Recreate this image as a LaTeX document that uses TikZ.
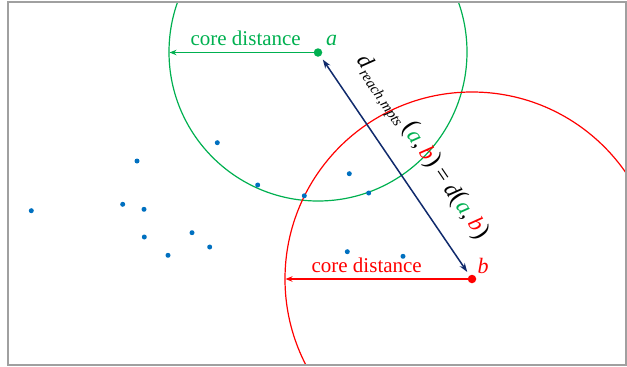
\documentclass[tikz,border=0pt]{standalone}
\usepackage{fontspec}
\setmainfont{Liberation Serif}
\usetikzlibrary{arrows.meta}
\definecolor{cgreen}{HTML}{00B050}
\definecolor{cred}{HTML}{FF0000}
\definecolor{cblue}{HTML}{0070C0}
\definecolor{cnavy}{HTML}{102A6C}
\definecolor{cframe}{HTML}{A0A0A0}
\tikzset{
  dot/.style={circle, fill=cblue, inner sep=0pt, minimum size=5pt},
  keypt/.style={circle, inner sep=0pt, minimum size=8.5pt},
  ring/.style={line width=1.2pt},
  corearrow/.style={line width=1.6pt, -{Stealth[length=7pt,width=5.5pt]}},
  lbl/.style={font=\fontsize{21}{25}\selectfont, inner sep=0pt},
  ptlbl/.style={font=\fontsize{22}{26}\selectfont\itshape, inner sep=0pt},
  reach/.style={line width=1.5pt, cnavy, {Stealth[length=9pt,width=6pt]}-{Stealth[length=9pt,width=6pt]}, shorten <=4pt, shorten >=4pt},
}
\begin{document}
\begin{tikzpicture}[x=1pt,y=-1pt]
\useasboundingbox (0,0) rectangle (627,367);
\coordinate (tl) at (8,2);
\coordinate (br) at (626,365);
\begin{scope}
  \clip (tl) rectangle (br);
  \draw[ring, cgreen] (318,52) circle[radius=149pt];
  \draw[ring, cred] (472,279) circle[radius=187pt];
\end{scope}
\draw[cframe, line width=1.5pt] (tl) rectangle (br);

% data points
\node[dot] (p1) at (217.3,142.7) {};
\node[dot] (p2) at (137,161) {};
\node[dot] (p3) at (257.7,185) {};
\node[dot] (p4) at (304.3,195.8) {};
\node[dot] (p5) at (31.3,210.7) {};
\node[dot] (p6) at (122.7,204.3) {};
\node[dot] (p7) at (144,209.3) {};
\node[dot] (p8) at (144.3,237) {};
\node[dot] (p9) at (192,232.7) {};
\node[dot] (p10) at (209.7,247) {};
\node[dot] (p11) at (168,255.3) {};
\node[dot] (p12) at (349.3,173.7) {};
\node[dot] (p13) at (368.7,193) {};
\node[dot] (p14) at (347.3,251.7) {};
\node[dot] (p15) at (403,256.3) {};

% key points
\node[keypt, fill=cgreen] (a) at (318,52.5) {};
\node[keypt, fill=cred] (b) at (472,279) {};
\coordinate (ga) at (169.5,52.5);
\coordinate (rb) at (285.5,279);

\draw[corearrow, cgreen] (a.center) -- (ga);
\draw[corearrow, cred] (b.center) -- (rb);

\node[lbl, cgreen, anchor=base] (gl) at (245.7,45) {core distance};
\node[lbl, cred, anchor=base] (rl) at (366.7,272.5) {core distance};
\node[ptlbl, cgreen, anchor=base] (al) at (331.5,45) {a};
\node[ptlbl, cred, anchor=base] (bl) at (483,273) {b};

\draw[reach] (a) -- (b)
  node[midway, sloped, yshift=32pt, inner sep=0pt, text=black, font=\fontsize{23}{27}\selectfont]
  {\textit{d}\raisebox{-5pt}{\fontsize{15}{17}\selectfont\textit{reach,mpts}}\,{\fontsize{26}{29}\selectfont(}\textit{\textcolor{cgreen}{a}},\,\textit{\textcolor{cred}{b}}{\fontsize{26}{29}\selectfont)} = \textit{d}{\fontsize{26}{29}\selectfont(}\textit{\textcolor{cgreen}{a}},\,\textit{\textcolor{cred}{b}}{\fontsize{26}{29}\selectfont)}};
\end{tikzpicture}
\end{document}
